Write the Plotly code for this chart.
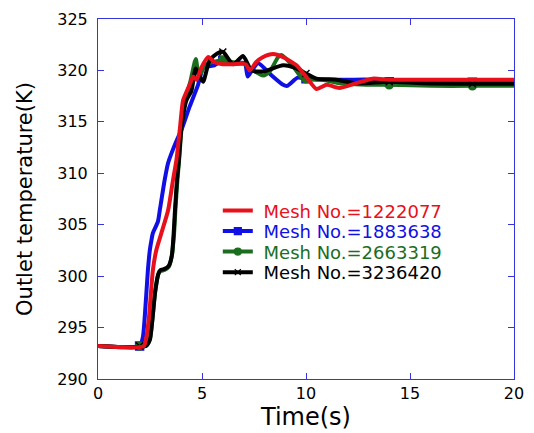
import numpy as np
import plotly.graph_objects as go

# ---- data ----
names = ["Mesh No.=1222077", "Mesh No.=1883638", "Mesh No.=2663319", "Mesh No.=3236420"]

t_red = [0, 2.2, 2.32, 2.45, 2.64, 2.8, 3.05, 3.37, 3.61, 3.77, 3.93, 4.09, 4.25, 4.45, 4.57, 4.74,
         4.95, 5.3, 5.6, 6.0, 6.5, 7.1, 7.3, 7.6, 7.94, 8.42, 8.9, 9.54, 10.0, 10.5, 11.0, 11.6,
         12.4, 13.2, 14.0, 16, 18, 20]
T_red = [293.2, 293.2, 294.0, 296.0, 300.6, 302.5, 304.2, 306.4, 309.4, 311.3, 314.2, 317.1, 317.9,
         318.8, 319.4, 319.1, 320.2, 321.3, 320.8, 320.6, 320.6, 320.6, 320.0, 320.8, 321.3, 321.6,
         321.3, 320.5, 319.4, 318.2, 318.6, 318.3, 318.75, 319.2, 319.1, 319.1, 319.1, 319.1]

t_blue = [0, 2.0, 2.16, 2.25, 2.40, 2.49, 2.57, 2.64, 2.88, 2.97, 3.21, 3.37, 3.6, 3.85, 4.01, 4.41,
          4.81, 5.05, 5.3, 5.6, 6.0, 6.5, 7.05, 7.2, 7.4, 7.7, 8.3, 8.9, 9.1, 9.6, 10.0, 11.0, 12.0,
          13.2, 14.0, 16, 18, 20]
T_blue = [293.2, 293.2, 294.1, 296.1, 300.6, 302.5, 303.5, 304.2, 305.3, 306.4, 309.4, 311.0, 312.3,
          313.5, 314.2, 316.5, 318.6, 320.2, 320.4, 320.5, 321.0, 320.7, 320.7, 319.4, 320.0, 320.7,
          319.6, 318.6, 318.5, 319.3, 319.2, 319.1, 319.1, 319.1, 318.9, 318.85, 318.85, 318.85]

t_green = [0, 2.3, 2.49, 2.6, 2.75, 2.9, 3.0, 3.2, 3.4, 3.55, 3.66, 3.72, 3.82, 3.9, 4.0, 4.1, 4.25,
           4.45, 4.70, 4.86, 5.13, 5.5, 6.0, 6.5, 6.97, 7.46, 7.94, 8.26, 8.66, 8.82, 9.38, 9.86,
           10.8, 11.6, 13.2, 14.0, 16, 18, 20]
T_green = [293.2, 293.2, 293.8, 295.5, 298.5, 300.2, 300.5, 300.6, 300.9, 302.0, 304.2, 306.4,
           309.4, 311.3, 314.0, 316.0, 317.5, 319.0, 321.1, 319.4, 320.5, 320.8, 321.0, 320.8,
           320.7, 320.0, 319.5, 319.9, 321.3, 321.5, 320.4, 319.2, 319.1, 318.75, 318.6, 318.6,
           318.5, 318.5, 318.5]

t_black = [0, 2.3, 2.49, 2.6, 2.75, 2.9, 3.0, 3.2, 3.4, 3.55, 3.64, 3.7, 3.8, 3.89, 4.0, 4.25,
           4.49, 4.70, 4.85, 5.05, 5.37, 5.77, 6.01, 6.5, 6.97, 7.38, 7.94, 8.9, 9.54, 10.0, 10.5,
           11.47, 12.4, 14.0, 15.6, 18, 20]
T_black = [293.2, 293.2, 293.8, 295.5, 298.5, 300.2, 300.6, 300.7, 301.0, 302.0, 304.2, 306.4,
           309.4, 311.3, 314.2, 317.1, 318.0, 320.2, 319.6, 318.9, 321.0, 321.7, 321.8, 320.6,
           321.4, 320.0, 319.9, 320.5, 320.2, 319.7, 319.2, 319.1, 318.75, 318.9, 318.75, 318.7,
           318.7]

marker_times = [2, 6, 10, 14, 18]

x_ticks = [0, 5, 10, 15, 20]
y_ticks = [290, 295, 300, 305, 310, 315, 320, 325]

# ---- styles ----
colors = ["#e8101a", "#1010e6", "#1a6e1e", "#000000"]
symbols = [None, "square", "circle", "x-thin"]
FONT = "DejaVu Sans"
AX = "#3535e0"
legend_ids = ["legend", "legend2", "legend3", "legend4"]
legend_y = [0.467, 0.410, 0.353, 0.296]

series = [(t_red, T_red), (t_blue, T_blue), (t_green, T_green), (t_black, T_black)]
draw_order = [1, 2, 3, 0]

fig = go.Figure()
for i in draw_order:
    t, T = series[i]
    fig.add_trace(go.Scatter(x=t, y=T, mode="lines",
                             line=dict(color=colors[i], width=4, shape="spline", smoothing=0.6),
                             showlegend=False, hoverinfo="skip"))
    if symbols[i]:
        my = np.interp(marker_times, t, T)
        fig.add_trace(go.Scatter(x=marker_times, y=my, mode="markers",
                                 marker=dict(symbol=symbols[i], size=8 if i != 3 else 7, color=colors[i],
                                             line=dict(color=colors[i], width=1.5)),
                                 showlegend=False, hoverinfo="skip"))

# legend entries (one legend box per row for exact spacing)
for i in range(4):
    mode = "lines+markers" if symbols[i] else "lines"
    kw = {}
    if symbols[i]:
        kw["marker"] = dict(symbol=symbols[i], size=7 if i != 3 else 6, color=colors[i],
                            line=dict(color=colors[i], width=1.2))
    fig.add_trace(go.Scatter(x=[None], y=[None], mode=mode, line=dict(color=colors[i], width=4),
                             legend=legend_ids[i],
                             name=f'&nbsp;<span style="color:{colors[i]}">{names[i]}</span>', **kw))

layout_legends = {}
for i, lid in enumerate(legend_ids):
    layout_legends[lid] = dict(x=0.288, y=legend_y[i], xanchor="left", yanchor="middle",
                               bgcolor="rgba(0,0,0,0)", font=dict(family=FONT, size=18),
                               itemwidth=30, borderwidth=0)

fig.update_layout(
    width=534, height=433,
    margin=dict(l=98, r=20, t=19, b=54, autoexpand=False),
    paper_bgcolor="white", plot_bgcolor="white",
    font=dict(family=FONT, color="black", size=16),
    **layout_legends,
)
fig.update_xaxes(range=[0, 20], tickvals=x_ticks, ticks="inside", ticklen=6, tickcolor=AX,
                 showline=True, linecolor=AX, linewidth=1, mirror="ticks", showgrid=False, zeroline=False,
                 automargin=False,
                 tickfont=dict(size=16), title=dict(text="Time(s)", font=dict(size=24), standoff=1))
fig.update_yaxes(range=[290, 325], tickvals=y_ticks, ticks="inside", ticklen=6, tickcolor=AX,
                 showline=True, linecolor=AX, linewidth=1, mirror="ticks", showgrid=False, zeroline=False,
                 automargin=False,
                 tickfont=dict(size=16), ticklabelstandoff=6,
                 title=dict(text="Outlet temperature(K)", font=dict(size=21), standoff=18))

fig.write_html("out.html", config={"displayModeBar": False},
               post_script="document.body.style.margin='0';")
